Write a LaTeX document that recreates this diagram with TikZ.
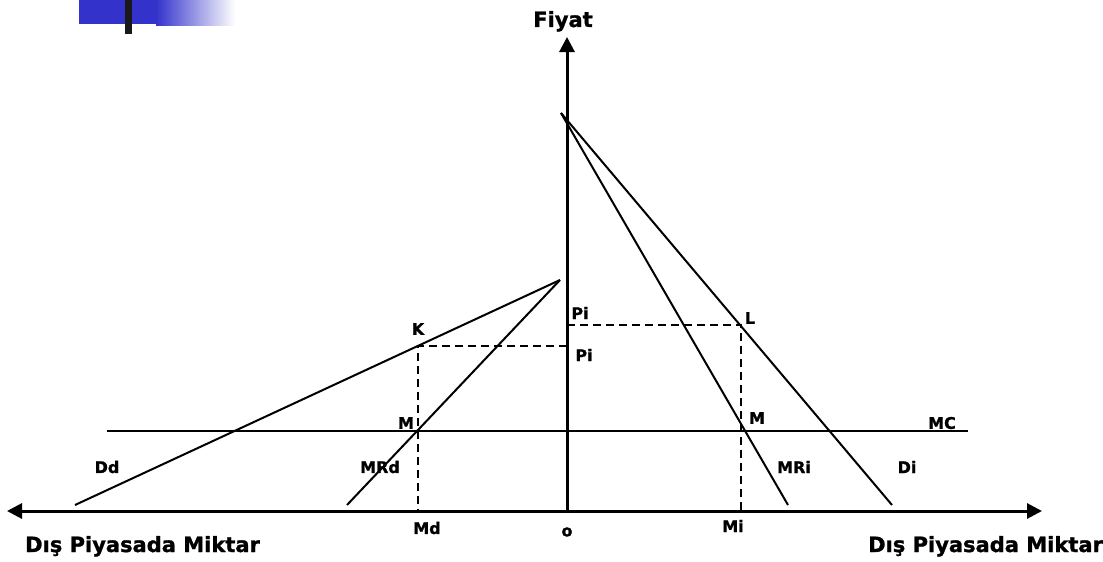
\documentclass[tikz,border=0pt]{standalone}
\usepackage{fontspec}
\setmainfont{DejaVu Sans}[BoldFeatures={FakeBold=1.2}]
\usetikzlibrary{arrows.meta}
\definecolor{deco}{HTML}{3333CC}
\begin{document}
\begin{tikzpicture}[x=1pt,y=-1pt,
  ln/.style={line width=2pt},
  axis/.style={line width=3pt},
  dsh/.style={line width=1.8pt, dash pattern=on 8pt off 5pt},
  lbl/.style={font=\fontsize{16}{18}\selectfont\bfseries, inner sep=0pt},
  big/.style={font=\fontsize{21}{24}\selectfont\bfseries, inner sep=0pt},
  tip/.style={-{Triangle[length=15pt,width=15pt]}}]
\useasboundingbox (0,0) rectangle (1103,562);
% decoration
\fill[deco] (79,0) rectangle (157,24);
\shade[left color=deco, right color=white] (156,0) rectangle (235,25);
\fill[black!90] (125,0) rectangle (132,34);
% key points
\coordinate (O) at (567,511);
\coordinate (Ytop) at (567,37);
\coordinate (Xl) at (7,511);
\coordinate (Xr) at (1042,511);
\coordinate (A) at (561,113);
\coordinate (Die) at (892,505);
\coordinate (MRie) at (788,505);
\coordinate (B) at (560,280);
\coordinate (Dde) at (75,505);
\coordinate (MRde) at (347,505);
\coordinate (MCl) at (107,431);
\coordinate (MCr) at (968,431);
\coordinate (L) at (741,325);
\coordinate (Li) at (567,325);
\coordinate (Lb) at (741,511);
\coordinate (K) at (418,346);
\coordinate (Ki) at (567,346);
\coordinate (Kb) at (418,511);
% axes
\draw[axis,tip] (O) -- (Ytop);
\draw[axis,tip] (O) -- (Xr);
\draw[axis,tip] (O) -- (Xl);
% curves
\draw[ln] (MCl) -- (MCr);
\draw[ln] (A) -- (Die);
\draw[ln] (A) -- (MRie);
\draw[ln] (B) -- (Dde);
\draw[ln] (B) -- (MRde);
% dashed
\draw[dsh] (Li) -- (L) -- (Lb);
\draw[dsh] (Ki) -- (K) -- (Kb);
% labels
\node[big, anchor=base] (fiyat) at (563,27) {Fiyat};
\node[big, anchor=base west] (xl) at (25,552) {Dış Piyasada Miktar};
\node[big, anchor=base west] (xr) at (868,552) {Dış Piyasada Miktar};
\node[lbl] (lK) at (418,329) {K};
\node[lbl] (lPi1) at (580,313) {Pi};
\node[lbl] (lPi2) at (584,355) {Pi};
\node[lbl] (lM1) at (406,423) {M};
\node[lbl] (lL) at (750,318) {L};
\node[lbl] (lM2) at (757,418) {M};
\node[lbl] (lMC) at (942,423) {MC};
\node[lbl] (lDd) at (107,467) {Dd};
\node[lbl] (lMRd) at (380,467) {MRd};
\node[lbl] (lMRi) at (794,467) {MRi};
\node[lbl] (lDi) at (907,467) {Di};
\node[lbl] (lMd) at (427,528) {Md};
\node[lbl] (lMi) at (733,526) {Mi};
\node[lbl] (lo) at (567,532) {o};
\end{tikzpicture}
\end{document}
